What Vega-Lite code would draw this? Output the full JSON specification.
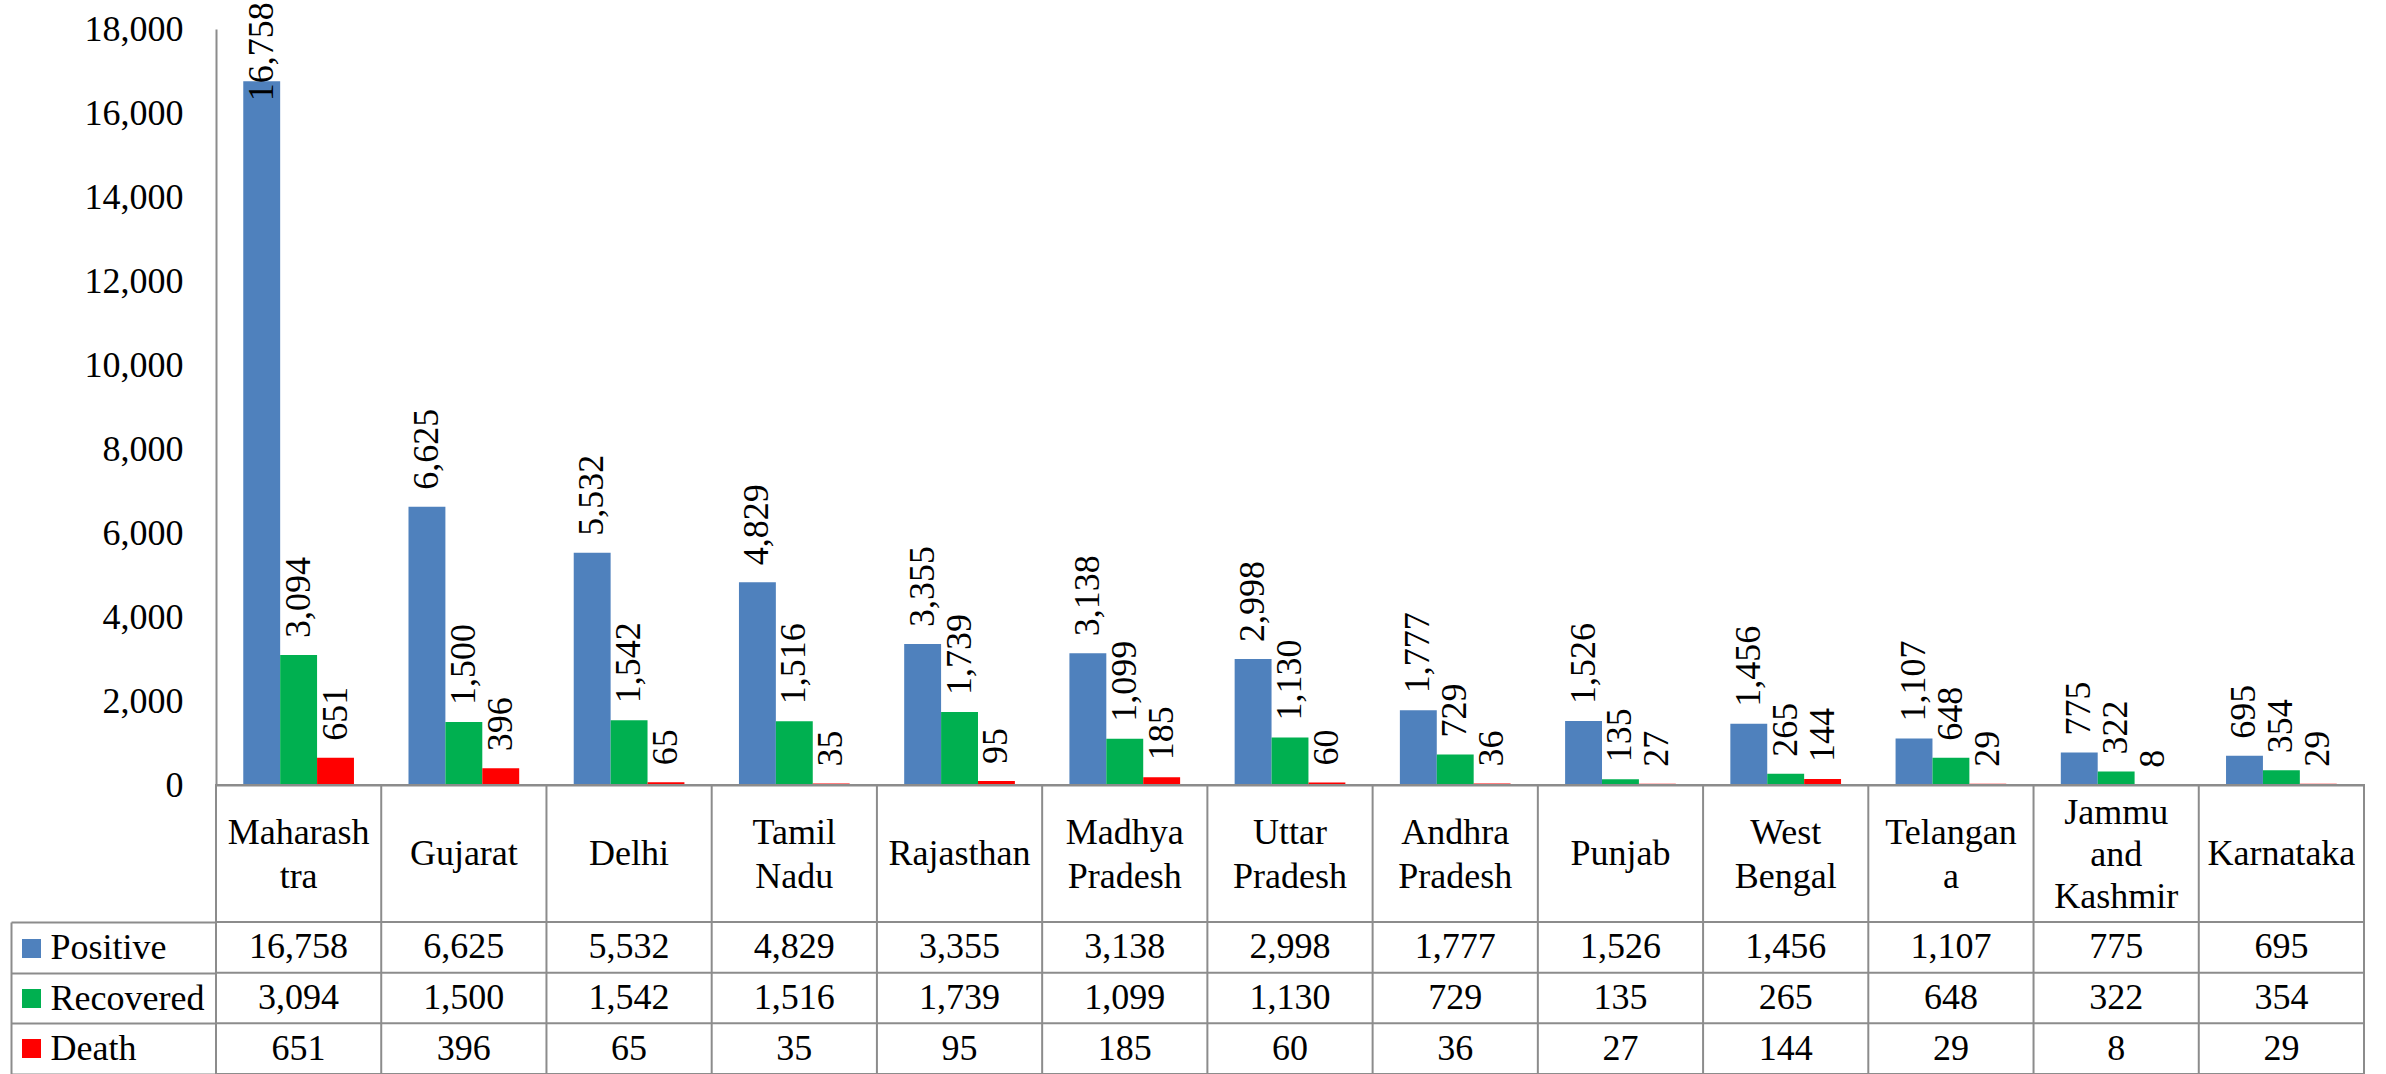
{
  "$schema": "https://vega.github.io/schema/vega-lite/v6.json",
  "background": "white",
  "padding": {"left": 9, "top": 2, "right": 10, "bottom": 0},
  "bounds": "flush",
  "spacing": 0,
  "config": {
    "font": "Liberation Serif",
    "view": {"stroke": null},
    "text": {"font": "Liberation Serif"},
    "axis": {"labelFont": "Liberation Serif", "labelFontSize": 36, "labelColor": "#000000"}
  },
  "datasets": {
    "d": [
      {"state": "Maharashtra", "label": "Maharash\ntra", "series": "Positive", "value": 16758},
      {"state": "Maharashtra", "label": "Maharash\ntra", "series": "Recovered", "value": 3094},
      {"state": "Maharashtra", "label": "Maharash\ntra", "series": "Death", "value": 651},
      {"state": "Gujarat", "label": "Gujarat", "series": "Positive", "value": 6625},
      {"state": "Gujarat", "label": "Gujarat", "series": "Recovered", "value": 1500},
      {"state": "Gujarat", "label": "Gujarat", "series": "Death", "value": 396},
      {"state": "Delhi", "label": "Delhi", "series": "Positive", "value": 5532},
      {"state": "Delhi", "label": "Delhi", "series": "Recovered", "value": 1542},
      {"state": "Delhi", "label": "Delhi", "series": "Death", "value": 65},
      {"state": "Tamil Nadu", "label": "Tamil\nNadu", "series": "Positive", "value": 4829},
      {"state": "Tamil Nadu", "label": "Tamil\nNadu", "series": "Recovered", "value": 1516},
      {"state": "Tamil Nadu", "label": "Tamil\nNadu", "series": "Death", "value": 35},
      {"state": "Rajasthan", "label": "Rajasthan", "series": "Positive", "value": 3355},
      {"state": "Rajasthan", "label": "Rajasthan", "series": "Recovered", "value": 1739},
      {"state": "Rajasthan", "label": "Rajasthan", "series": "Death", "value": 95},
      {"state": "Madhya Pradesh", "label": "Madhya\nPradesh", "series": "Positive", "value": 3138},
      {"state": "Madhya Pradesh", "label": "Madhya\nPradesh", "series": "Recovered", "value": 1099},
      {"state": "Madhya Pradesh", "label": "Madhya\nPradesh", "series": "Death", "value": 185},
      {"state": "Uttar Pradesh", "label": "Uttar\nPradesh", "series": "Positive", "value": 2998},
      {"state": "Uttar Pradesh", "label": "Uttar\nPradesh", "series": "Recovered", "value": 1130},
      {"state": "Uttar Pradesh", "label": "Uttar\nPradesh", "series": "Death", "value": 60},
      {"state": "Andhra Pradesh", "label": "Andhra\nPradesh", "series": "Positive", "value": 1777},
      {"state": "Andhra Pradesh", "label": "Andhra\nPradesh", "series": "Recovered", "value": 729},
      {"state": "Andhra Pradesh", "label": "Andhra\nPradesh", "series": "Death", "value": 36},
      {"state": "Punjab", "label": "Punjab", "series": "Positive", "value": 1526},
      {"state": "Punjab", "label": "Punjab", "series": "Recovered", "value": 135},
      {"state": "Punjab", "label": "Punjab", "series": "Death", "value": 27},
      {"state": "West Bengal", "label": "West\nBengal", "series": "Positive", "value": 1456},
      {"state": "West Bengal", "label": "West\nBengal", "series": "Recovered", "value": 265},
      {"state": "West Bengal", "label": "West\nBengal", "series": "Death", "value": 144},
      {"state": "Telangana", "label": "Telangan\na", "series": "Positive", "value": 1107},
      {"state": "Telangana", "label": "Telangan\na", "series": "Recovered", "value": 648},
      {"state": "Telangana", "label": "Telangan\na", "series": "Death", "value": 29},
      {"state": "Jammu and Kashmir", "label": "Jammu\nand\nKashmir", "series": "Positive", "value": 775},
      {"state": "Jammu and Kashmir", "label": "Jammu\nand\nKashmir", "series": "Recovered", "value": 322},
      {"state": "Jammu and Kashmir", "label": "Jammu\nand\nKashmir", "series": "Death", "value": 8},
      {"state": "Karnataka", "label": "Karnataka", "series": "Positive", "value": 695},
      {"state": "Karnataka", "label": "Karnataka", "series": "Recovered", "value": 354},
      {"state": "Karnataka", "label": "Karnataka", "series": "Death", "value": 29}
    ]
  },
  "vconcat": [
    {
      "width": 2148,
      "height": 756,
      "data": {"name": "d"},
      "encoding": {
        "x": {"field": "state", "type": "nominal", "sort": null, "scale": {"paddingInner": 0.33, "paddingOuter": 0.165},
              "axis": {"labels": false, "ticks": false, "title": null, "domain": true, "domainColor": "#8c8c8c", "domainWidth": 2}},
        "xOffset": {"field": "series", "type": "nominal", "sort": ["Positive", "Recovered", "Death"], "scale": {"paddingInner": 0, "paddingOuter": 0}},
        "y": {"field": "value", "type": "quantitative", "scale": {"domain": [0, 18000], "nice": false},
              "axis": {"values": [0, 2000, 4000, 6000, 8000, 10000, 12000, 14000, 16000, 18000], "format": ",.0f", "ticks": false, "grid": false, "title": null, "labelPadding": 33, "labelFont": "Liberation Serif", "domainColor": "#8c8c8c", "domainWidth": 2}}
      },
      "layer": [
        {
          "mark": {"type": "bar"},
          "encoding": {
            "color": {"field": "series", "type": "nominal", "sort": ["Positive", "Recovered", "Death"],
                      "scale": {"domain": ["Positive", "Recovered", "Death"], "range": ["#4F81BD", "#00B050", "#FF0000"]},
                      "legend": {"orient": "none", "legendX": -194, "legendY": 910, "title": null, "symbolType": "square", "symbolSize": 361, "symbolStrokeWidth": 0, "symbolOpacity": 1,
                                 "labelFontSize": 1, "labelExpr": "''", "labelOffset": 0, "rowPadding": 31, "padding": 0, "direction": "vertical"}}
          }
        },
        {
          "transform": [{"filter": "datum.value < 15000"}],
          "mark": {"type": "text", "angle": 270, "align": "left", "baseline": "middle", "dx": 17, "fontSize": 36, "font": "Liberation Serif", "color": "#000000"},
          "encoding": {"text": {"field": "value", "type": "quantitative", "format": ",.0f"}}
        },
        {
          "transform": [{"filter": "datum.value >= 15000"}],
          "mark": {"type": "text", "angle": 270, "align": "left", "baseline": "middle", "dx": -20, "fontSize": 36, "font": "Liberation Serif", "color": "#000000"},
          "encoding": {"text": {"field": "value", "type": "quantitative", "format": ",.0f"}}
        }
      ]
    },
    {
      "width": 2148,
      "height": 137,
      "data": {"name": "d"},
      "transform": [{"filter": "datum.series == 'Positive'"}],
      "view": {"stroke": "#8c8c8c", "strokeWidth": 2},
      "encoding": {
        "x": {"field": "state", "type": "nominal", "sort": null, "scale": {"paddingInner": 0, "paddingOuter": 0}, "axis": null}
      },
      "layer": [
        {
          "mark": {"type": "rule", "color": "#8c8c8c", "strokeWidth": 2},
          "encoding": {"x": {"field": "state", "type": "nominal", "sort": null, "bandPosition": 0, "scale": {"paddingInner": 0, "paddingOuter": 0}, "axis": null}}
        },
        {
          "transform": [{"filter": "split(datum.label, '\\n').length == 1"}],
          "mark": {"type": "text", "lineBreak": "\n", "fontSize": 36, "font": "Liberation Serif", "lineHeight": 43, "baseline": "middle", "align": "center", "color": "#000000"},
          "encoding": {"text": {"field": "label", "type": "nominal"}}
        },
        {
          "transform": [{"filter": "split(datum.label, '\\n').length == 2"}],
          "mark": {"type": "text", "lineBreak": "\n", "fontSize": 36, "font": "Liberation Serif", "lineHeight": 44, "baseline": "middle", "align": "center", "dy": -21, "color": "#000000"},
          "encoding": {"text": {"field": "label", "type": "nominal"}}
        },
        {
          "transform": [{"filter": "split(datum.label, '\\n').length == 3"}],
          "mark": {"type": "text", "lineBreak": "\n", "fontSize": 36, "font": "Liberation Serif", "lineHeight": 42, "baseline": "middle", "align": "center", "dy": -41, "color": "#000000"},
          "encoding": {"text": {"field": "label", "type": "nominal"}}
        }
      ]
    },
    {
      "width": 2148,
      "height": 152,
      "data": {"name": "d"},
      "view": {"stroke": "#8c8c8c", "strokeWidth": 2},
      "layer": [
        {
          "transform": [{"filter": "datum.series == 'Positive'"}],
          "mark": {"type": "rule", "color": "#8c8c8c", "strokeWidth": 2},
          "encoding": {"x": {"field": "state", "type": "nominal", "sort": null, "bandPosition": 0, "scale": {"paddingInner": 0, "paddingOuter": 0}, "axis": null}}
        },
        {
          "transform": [{"filter": "datum.state == 'Maharashtra'"}],
          "mark": {"type": "rule", "color": "#8c8c8c", "strokeWidth": 2},
          "encoding": {"y": {"field": "series", "type": "nominal", "sort": ["Positive", "Recovered", "Death"], "bandPosition": 0, "scale": {"paddingInner": 0, "paddingOuter": 0},
                             "axis": {"title": null, "labels": true, "labelAlign": "left", "labelBaseline": "middle", "labelPadding": 166, "labelFont": "Liberation Serif", "labelFontSize": 36, "labelColor": "#000000", "domain": true, "domainColor": "#8c8c8c", "domainWidth": 2, "ticks": true, "tickBand": "extent", "tickSize": -205, "tickColor": "#8c8c8c", "tickWidth": 2, "offset": 205, "grid": false}}}
        },
        {
          "mark": {"type": "text", "fontSize": 36, "font": "Liberation Serif", "baseline": "middle", "align": "center", "color": "#000000"},
          "encoding": {
            "x": {"field": "state", "type": "nominal", "sort": null, "scale": {"paddingInner": 0, "paddingOuter": 0}, "axis": null},
            "y": {"field": "series", "type": "nominal", "sort": ["Positive", "Recovered", "Death"], "scale": {"paddingInner": 0, "paddingOuter": 0},
                  "axis": {"title": null, "labels": true, "labelAlign": "left", "labelBaseline": "middle", "labelPadding": 166, "labelFont": "Liberation Serif", "labelFontSize": 36, "labelColor": "#000000", "domain": true, "domainColor": "#8c8c8c", "domainWidth": 2, "ticks": true, "tickBand": "extent", "tickSize": -205, "tickColor": "#8c8c8c", "tickWidth": 2, "offset": 205, "grid": false}},
            "text": {"field": "value", "type": "quantitative", "format": ",.0f"}
          }
        }
      ]
    }
  ]
}
